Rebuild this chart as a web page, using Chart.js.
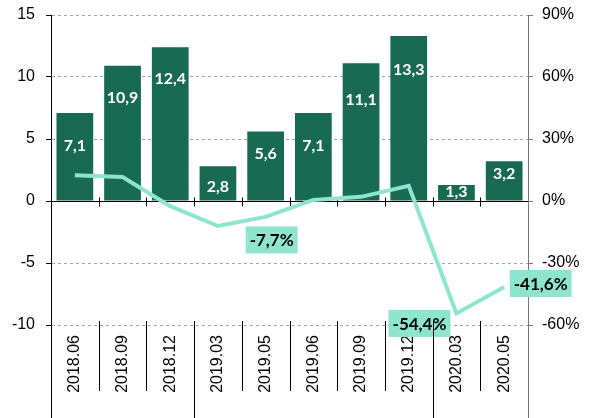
<!DOCTYPE html>
<html>
<head>
<meta charset="utf-8">
<script src="https://cdn.jsdelivr.net/npm/chart.js@4/dist/chart.umd.min.js"></script>
<style>
  html, body { margin: 0; padding: 0; background: #fff; }
  #wrap { width: 590px; height: 418px; }
</style>
</head>
<body>
<div id="wrap"><canvas id="chart" width="590" height="418"></canvas></div>
<script>
// ---- data ----
const categories = ['2018.06', '2018.09', '2018.12', '2019.03', '2019.05', '2019.06', '2019.09', '2019.12', '2020.03', '2020.05'];
const volumeValues = [7.1, 10.9, 12.4, 2.8, 5.6, 7.1, 11.1, 13.3, 1.3, 3.2];
const growthValues = [12.5, 11.6, -2.5, -12.1, -7.7, 0.5, 2.0, 7.3, -54.4, -41.6];
const leftTicks = [-10, -5, 0, 5, 10, 15];
const rightTicks = [-60, -30, 0, 30, 60, 90];
const calloutIndexes = [4, 8, 9];

// styling
const BAR_COLOR = '#186a53';
const LINE_COLOR = '#8ee5cd';
const AXIS_FONT = "'Liberation Sans', Arial, sans-serif";
const LABEL_FONT = 'Lato, sans-serif';
const barLabelDrop = [33, 32, 32, 21, 22, 33, 36, 34, 7, 13];   // px below bar top
const calloutShift = { 4: [6, 23], 8: [-37, 10], 9: [36.5, -3.5] };

function fmt(v) {
    return v.toFixed(1).replace('.', ',');
}

// zero line + bar labels, drawn between the bars and the line
const decorPlugin = {
    id: 'decor',
    beforeDatasetDraw(chart, args) {
        if (args.meta.type !== 'line') return;
        const { ctx, chartArea: area } = chart;
        const y0 = Math.round(chart.scales.y.getPixelForValue(0)) + 0.5;
        const step = (area.right - area.left) / categories.length;

        // bar value labels (clipped at the zero line)
        const bars = chart.getDatasetMeta(0);
        ctx.save();
        ctx.beginPath();
        ctx.rect(area.left, area.top, area.right - area.left, y0 - area.top);
        ctx.clip();
        ctx.font = 'bold 16px ' + LABEL_FONT;
        ctx.fillStyle = '#fff';
        ctx.textAlign = 'center';
        ctx.textBaseline = 'middle';
        bars.data.forEach((bar, i) => {
            ctx.fillText(fmt(volumeValues[i]), bar.x, bar.y + barLabelDrop[i]);
        });
        ctx.restore();

        // zero line with small category ticks
        ctx.save();
        ctx.strokeStyle = '#000';
        ctx.lineWidth = 1;
        ctx.beginPath();
        ctx.moveTo(area.left, y0);
        ctx.lineTo(area.right, y0);
        for (let i = 1; i < categories.length; i++) {
            const x = Math.round(area.left + i * step) + 0.5;
            ctx.moveTo(x, y0 - 4);
            ctx.lineTo(x, y0 + 5);
        }
        ctx.stroke();
        ctx.restore();
    },
    afterDatasetsDraw(chart) {
        const { ctx } = chart;
        const pts = chart.getDatasetMeta(1).data;
        ctx.save();
        ctx.font = 'bold 17px ' + LABEL_FONT;
        ctx.textAlign = 'center';
        ctx.textBaseline = 'middle';
        calloutIndexes.forEach(i => {
            const txt = fmt(growthValues[i]) + '%';
            const [dx, dy] = calloutShift[i];
            const cx = pts[i].x + dx;
            const cy = pts[i].y + dy;
            const w = ctx.measureText(txt).width + 8;
            const h = 27;
            ctx.fillStyle = LINE_COLOR;
            ctx.fillRect(cx - w / 2, cy - h / 2, w, h);
            ctx.fillStyle = '#000';
            ctx.fillText(txt, cx, cy + 1);
        });
        ctx.restore();
    },
    afterDraw(chart) {
        // separators under the plot, longer at year changes
        const { ctx, chartArea: area } = chart;
        const step = (area.right - area.left) / categories.length;
        const H = chart.height;
        ctx.save();
        ctx.lineWidth = 1;
        ctx.strokeStyle = '#000';
        ctx.beginPath();
        for (let i = 1; i < categories.length; i++) {
            const x = Math.round(area.left + i * step) + 0.5;
            const newYear = categories[i].slice(0, 4) !== categories[i - 1].slice(0, 4);
            ctx.moveTo(x, area.bottom - 4);
            ctx.lineTo(x, newYear ? H : area.bottom + 66);
        }
        const lx = Math.round(area.left) + 0.5;
        ctx.moveTo(lx, area.bottom);
        ctx.lineTo(lx, H);
        ctx.stroke();
        ctx.strokeStyle = '#777';
        ctx.beginPath();
        const rx = Math.round(area.right) + 0.5;
        ctx.moveTo(rx, area.bottom);
        ctx.lineTo(rx, H);
        ctx.stroke();
        ctx.restore();
    }
};

function fixVertical(width) {
    return s => {
        s.width = width;
        s.paddingTop = 0;
        s.paddingBottom = 0;
    };
}

new Chart(document.getElementById('chart').getContext('2d'), {
    data: {
        labels: categories,
        datasets: [
            {
                type: 'bar',
                data: volumeValues,
                yAxisID: 'y',
                backgroundColor: BAR_COLOR,
                barPercentage: 0.77,
                categoryPercentage: 1,
                order: 2
            },
            {
                type: 'line',
                data: growthValues,
                yAxisID: 'y1',
                borderColor: LINE_COLOR,
                borderWidth: 4,
                pointRadius: 0,
                tension: 0,
                order: 1
            }
        ]
    },
    options: {
        responsive: false,
        animation: false,
        devicePixelRatio: 1,
        layout: { padding: { top: 15, left: 0, right: 0, bottom: 0 } },
        plugins: {
            legend: { display: false },
            tooltip: { enabled: false }
        },
        scales: {
            x: {
                offset: true,
                grid: { display: false, drawTicks: false },
                border: { display: false },
                ticks: {
                    autoSkip: false,
                    minRotation: 90,
                    maxRotation: 90,
                    padding: 10,
                    color: '#000',
                    font: { family: AXIS_FONT, size: 16 }
                },
                afterFit(s) {
                    s.height = 93;
                    s.paddingLeft = 0;
                    s.paddingRight = 0;
                }
            },
            y: {
                position: 'left',
                min: -10,
                max: 15,
                afterBuildTicks(s) { s.ticks = leftTicks.map(v => ({ value: v })); },
                ticks: {
                    padding: 11,
                    color: '#000',
                    font: { family: AXIS_FONT, size: 16 }
                },
                grid: {
                    color: c => (c.tick && c.tick.value === 0) ? 'rgba(0,0,0,0)' : '#a6a6a6',
                    tickColor: '#000',
                    tickLength: 5,
                    lineWidth: 1
                },
                border: { color: '#000', dash: [3, 3] },
                afterFit: fixVertical(51)
            },
            y1: {
                position: 'right',
                min: -60,
                max: 90,
                afterBuildTicks(s) { s.ticks = rightTicks.map(v => ({ value: v })); },
                ticks: {
                    padding: 9,
                    color: '#000',
                    font: { family: AXIS_FONT, size: 16 },
                    callback: v => v + '%'
                },
                grid: {
                    drawOnChartArea: false,
                    tickColor: '#777',
                    tickLength: 5
                },
                border: { color: '#777' },
                afterFit: fixVertical(62)
            }
        }
    },
    plugins: [decorPlugin]
});
</script>
</body>
</html>
